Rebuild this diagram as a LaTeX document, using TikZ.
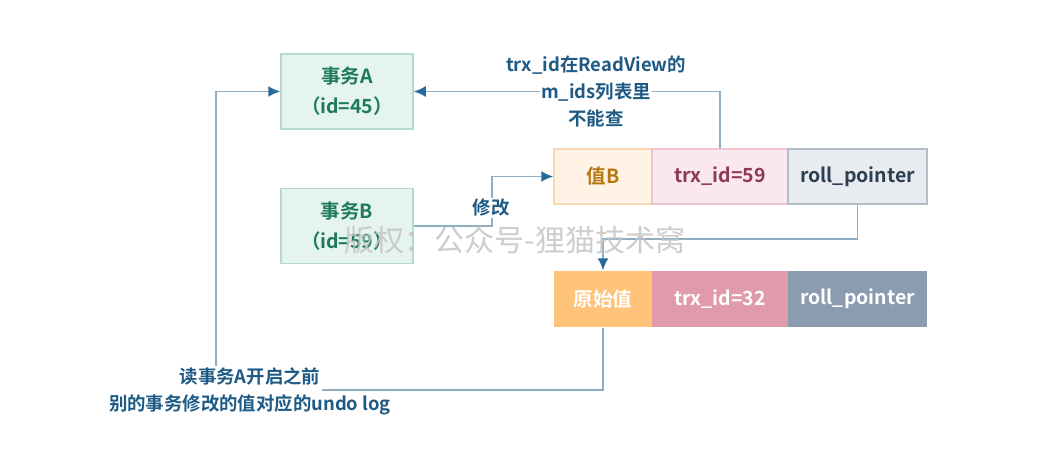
\documentclass[tikz,border=0pt]{standalone}
\usepackage{fontspec}
\setmainfont{Noto Sans CJK SC}
\newfontfamily\boldcjk{Noto Sans CJK SC Bold}
\usetikzlibrary{arrows.meta}
\definecolor{linec}{HTML}{8FAEC3}
\definecolor{arrowc}{HTML}{2A6A9A}
\definecolor{lblc}{HTML}{1F5A85}
\definecolor{txfill}{HTML}{E6F4EF}
\definecolor{txdraw}{HTML}{B5DCC9}
\definecolor{txtext}{HTML}{1E7A5E}
\definecolor{vbfill}{HTML}{FFF3E6}
\definecolor{vbdraw}{HTML}{F9D9B5}
\definecolor{vbtext}{HTML}{B8770F}
\definecolor{tfill}{HTML}{FBE8EE}
\definecolor{tdraw}{HTML}{EFC4D0}
\definecolor{ttext}{HTML}{8E3A55}
\definecolor{rfill}{HTML}{E8EBF0}
\definecolor{rdraw}{HTML}{B6BDC9}
\definecolor{rtext}{HTML}{2C3E50}
\definecolor{ofill}{HTML}{FFC37A}
\definecolor{o2fill}{HTML}{E09AAC}
\definecolor{r2fill}{HTML}{8B9BB0}
\definecolor{wmark}{HTML}{C4C4C4}
\begin{document}
\begin{tikzpicture}[x=1pt,y=-1pt,
  txbox/.style={draw=txdraw,fill=txfill,line width=1.5pt,minimum width=132pt,minimum height=75pt,inner sep=0pt,align=center,text=txtext,font=\boldcjk\fontsize{19.5}{30}\selectfont},
  cell/.style={line width=1.5pt,minimum height=55pt,inner sep=0pt,font=\boldcjk\fontsize{19.5}{24}\selectfont},
  conn/.style={draw=linec,line width=1.6pt,-{Latex[length=12pt,width=11pt,color=arrowc,fill=arrowc]}},
  plain/.style={draw=linec,line width=1.6pt},
  lbl/.style={text=lblc,align=center,font=\boldcjk\fontsize{18.4}{27}\selectfont,inner sep=1pt}
]
\useasboundingbox (0,0) rectangle (1050,474);
% transactions
\node[txbox] (A) at (347,91.5) {事务A\\（id=45）};
\node[txbox] (B) at (347,226) {事务B\\（id=59）};
% row 1
\node[cell,draw=vbdraw,fill=vbfill,text=vbtext,minimum width=98pt] (vB) at (603,176.5) {值B};
\node[cell,draw=tdraw,fill=tfill,text=ttext,minimum width=136pt] (t59) at (720,176.5) {trx\_id=59};
\node[cell,draw=rdraw,fill=rfill,text=rtext,minimum width=139pt] (rp1) at (857.5,176.5) {roll\_pointer};
% row 2
\node[cell,fill=ofill,text=white,minimum width=98pt,minimum height=56pt] (orig) at (603,299) {原始值};
\node[cell,fill=o2fill,text=white,minimum width=136pt,minimum height=56pt] (t32) at (720,299) {trx\_id=32};
\node[cell,fill=r2fill,text=white,minimum width=139pt,minimum height=56pt] (rp2) at (857.5,299) {roll\_pointer};
% label nodes
\node[lbl] (undo) at (250,391) {读事务A开启之前\\别的事务修改的值对应的undo log};
\coordinate (undoR) at (322,390);
\coordinate (undoT) at (216,366);
% connectors
\draw[conn] (B.east) -- ++(78,0) |- (vB.west);
\node[lbl,fill=white] (mod) at (491,208) {修改};
\draw[conn] (t59.north) |- (A.east);
\node[lbl] (rv) at (596,91) {trx\_id在ReadView的\\\colorbox{white}{\hspace{-2pt}m\_ids列表里\hspace{-2pt}}\\不能查};
\draw[conn] (rp1.south) -- ++(0,34) -| (orig.north);
\draw[plain] (orig.south) |- (undoR);
\draw[conn] (undoT) |- (A.west);
% watermark
\node[text=wmark,font=\fontsize{30}{34}\selectfont,inner sep=0pt,opacity=0.85] (wm) at (515,240) {版权：公众号-狸猫技术窝};
\end{tikzpicture}
\end{document}
